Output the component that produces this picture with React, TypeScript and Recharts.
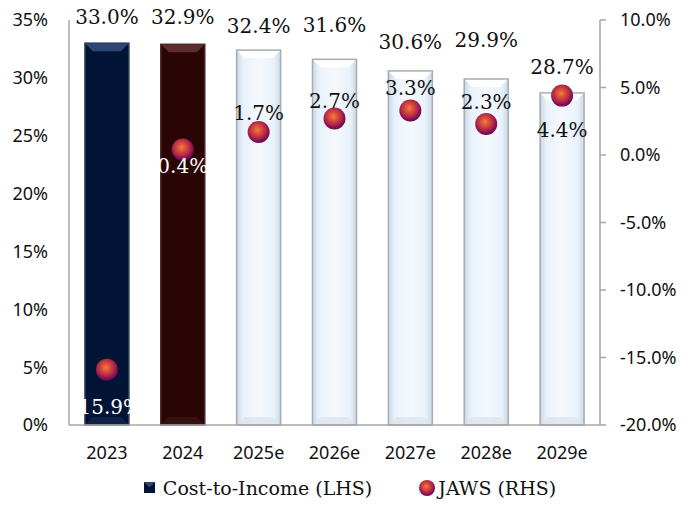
import React from 'react';
import { ComposedChart, Bar, Scatter, XAxis, YAxis, Legend, LabelList } from 'recharts';

const categories = ['2023', '2024', '2025e', '2026e', '2027e', '2028e', '2029e'];
const costToIncome = [33.0, 32.9, 32.4, 31.6, 30.6, 29.9, 28.7];
const jaws = [-15.9, 0.4, 1.7, 2.7, 3.3, 2.3, 4.4];
const leftTicks = [0, 5, 10, 15, 20, 25, 30, 35];
const rightTicks = [-20, -15, -10, -5, 0, 5, 10];

const data = categories.map((c, i) => ({ cat: c, i, cti: costToIncome[i], jaws: jaws[i] }));

// style constants
const barLabelLift = [26, 27, 24, 34, 29, 39, 26];
const jawsLabelDy = [37, 16, -19, -18, -22, -22, 34];
const jawsLabelColor = ['#ffffff', '#ffffff', '#111', '#111', '#111', '#111', '#111'];
const barStyles = [
  { main: '#011436', bevel: '#2e4675', bevelBottom: '#13264a', stroke: '#33415e' },
  { main: '#2a0505', bevel: '#5c2b2b', bevelBottom: '#3a1212', stroke: '#4a2a2a' },
];
const lightStyle = { main: 'url(#lightGrad)', bevel: '#ffffff', bevelBottom: '#dbe5ee', stroke: '#a4adb7' };

const serif = '"DejaVu Serif", serif';
const sans = '"Noto Sans", sans-serif';

const BarShape = (props: any) => {
  const { x, y, width, height, payload } = props;
  const st = payload.i < 2 ? barStyles[payload.i] : lightStyle;
  const b = 8;
  return (
    <g>
      <rect x={x} y={y} width={width} height={height} fill={st.main} />
      <polygon
        points={`${x},${y} ${x + width},${y} ${x + width - b},${y + b} ${x + b},${y + b}`}
        fill={st.bevel}
      />
      <polygon
        points={`${x},${y + height} ${x + width},${y + height} ${x + width - b},${y + height - b} ${x + b},${y + height - b}`}
        fill={st.bevelBottom}
        opacity={0.8}
      />
      <rect x={x} y={y} width={width} height={height} fill="none" stroke={st.stroke} strokeWidth={1.5} />
    </g>
  );
};

const BarLabel = (props: any) => {
  const { x, y, width, value, index } = props;
  return (
    <text
      x={x + width / 2}
      y={y - barLabelLift[index]}
      textAnchor="middle"
      dominantBaseline="central"
      fontFamily={serif}
      fontSize={20}
      fill="#111"
    >
      {value.toFixed(1)}%
    </text>
  );
};

const GradStops = () => (
  <>
    <stop offset="0%" stopColor="#f27a52" />
    <stop offset="35%" stopColor="#d94a32" />
    <stop offset="62%" stopColor="#b02a4a" />
    <stop offset="82%" stopColor="#8c1058" />
    <stop offset="100%" stopColor="#650a45" />
  </>
);

const JawsShape = (props: any) => {
  const { cx, cy, payload } = props;
  const i = payload.i;
  return (
    <g>
      <circle cx={cx} cy={cy} r={11} fill="url(#jawsGrad)" />
      <text
        x={cx}
        y={cy + jawsLabelDy[i]}
        textAnchor="middle"
        dominantBaseline="central"
        fontFamily={serif}
        fontSize={20}
        fill={jawsLabelColor[i]}
      >
        {payload.jaws.toFixed(1)}%
      </text>
    </g>
  );
};

const LegendContent = () => (
  <div
    style={{
      display: 'flex',
      justifyContent: 'center',
      alignItems: 'center',
      fontFamily: serif,
      fontSize: 19,
      color: '#111',
      paddingTop: 12,
      marginLeft: 12,
    }}
  >
    <svg width={12} height={12} style={{ marginRight: 7 }}>
      <rect x={0} y={0} width={11} height={11} fill="#011436" />
      <polygon points="0,0 11,0 5.5,5.5" fill="#2e4675" />
    </svg>
    <span style={{ marginRight: 46 }}>Cost-to-Income (LHS)</span>
    <svg width={18} height={18} style={{ marginRight: 2 }}>
      <defs>
        <radialGradient id="jawsGradL" cx="45%" cy="40%" r="60%">
          <GradStops />
        </radialGradient>
      </defs>
      <circle cx={9} cy={9} r={8} fill="url(#jawsGradL)" />
    </svg>
    <span>JAWS (RHS)</span>
  </div>
);

export default function App() {
  return (
    <div style={{ position: 'absolute', left: 0, top: 0, width: 688, height: 510, background: '#fff' }}>
      <ComposedChart
        width={688}
        height={510}
        data={data}
        margin={{ top: 20, right: 0, bottom: 0, left: 0 }}
        barCategoryGap="21%"
      >
        <defs>
          <linearGradient id="lightGrad" x1="0" y1="0" x2="1" y2="0">
            <stop offset="0%" stopColor="#ccd7e2" />
            <stop offset="14%" stopColor="#e8f1fa" />
            <stop offset="50%" stopColor="#f5f9fe" />
            <stop offset="86%" stopColor="#e8f1fa" />
            <stop offset="100%" stopColor="#ccd7e2" />
          </linearGradient>
          <radialGradient id="jawsGrad" cx="45%" cy="40%" r="60%">
            <GradStops />
          </radialGradient>
        </defs>
        <XAxis
          dataKey="cat"
          height={40}
          axisLine={{ stroke: '#a6a6a6', strokeWidth: 1.5 }}
          tickLine={false}
          tickSize={6}
          tickMargin={15}
          tick={{ fontFamily: sans, fontSize: 18, fill: '#111' }}
          interval={0}
        />
        <YAxis
          yAxisId="left"
          orientation="left"
          width={69}
          domain={[0, 35]}
          ticks={leftTicks}
          tickFormatter={(v: number) => `${v}%`}
          axisLine={{ stroke: '#a6a6a6', strokeWidth: 1.5 }}
          tickLine={false}
          tickSize={6}
          tickMargin={15}
          tick={{ fontFamily: sans, fontSize: 18, fill: '#111' }}
          interval={0}
        />
        <YAxis
          yAxisId="right"
          orientation="right"
          width={88}
          domain={[-20, 10]}
          ticks={rightTicks}
          tickFormatter={(v: number) => `${v.toFixed(1)}%`}
          axisLine={{ stroke: '#a6a6a6', strokeWidth: 1.5 }}
          tickLine={{ stroke: '#a6a6a6', strokeWidth: 1.5 }}
          tickSize={6}
          tickMargin={14}
          tick={{ fontFamily: sans, fontSize: 18, fill: '#111' }}
          interval={0}
        />
        <Legend verticalAlign="bottom" height={45} content={<LegendContent />} />
        <Bar
          yAxisId="left"
          dataKey="cti"
          name="Cost-to-Income (LHS)"
          shape={<BarShape />}
          isAnimationActive={false}
        >
          <LabelList dataKey="cti" content={<BarLabel />} />
        </Bar>
        <Scatter
          yAxisId="right"
          dataKey="jaws"
          name="JAWS (RHS)"
          shape={<JawsShape />}
          isAnimationActive={false}
        />
      </ComposedChart>
    </div>
  );
}
